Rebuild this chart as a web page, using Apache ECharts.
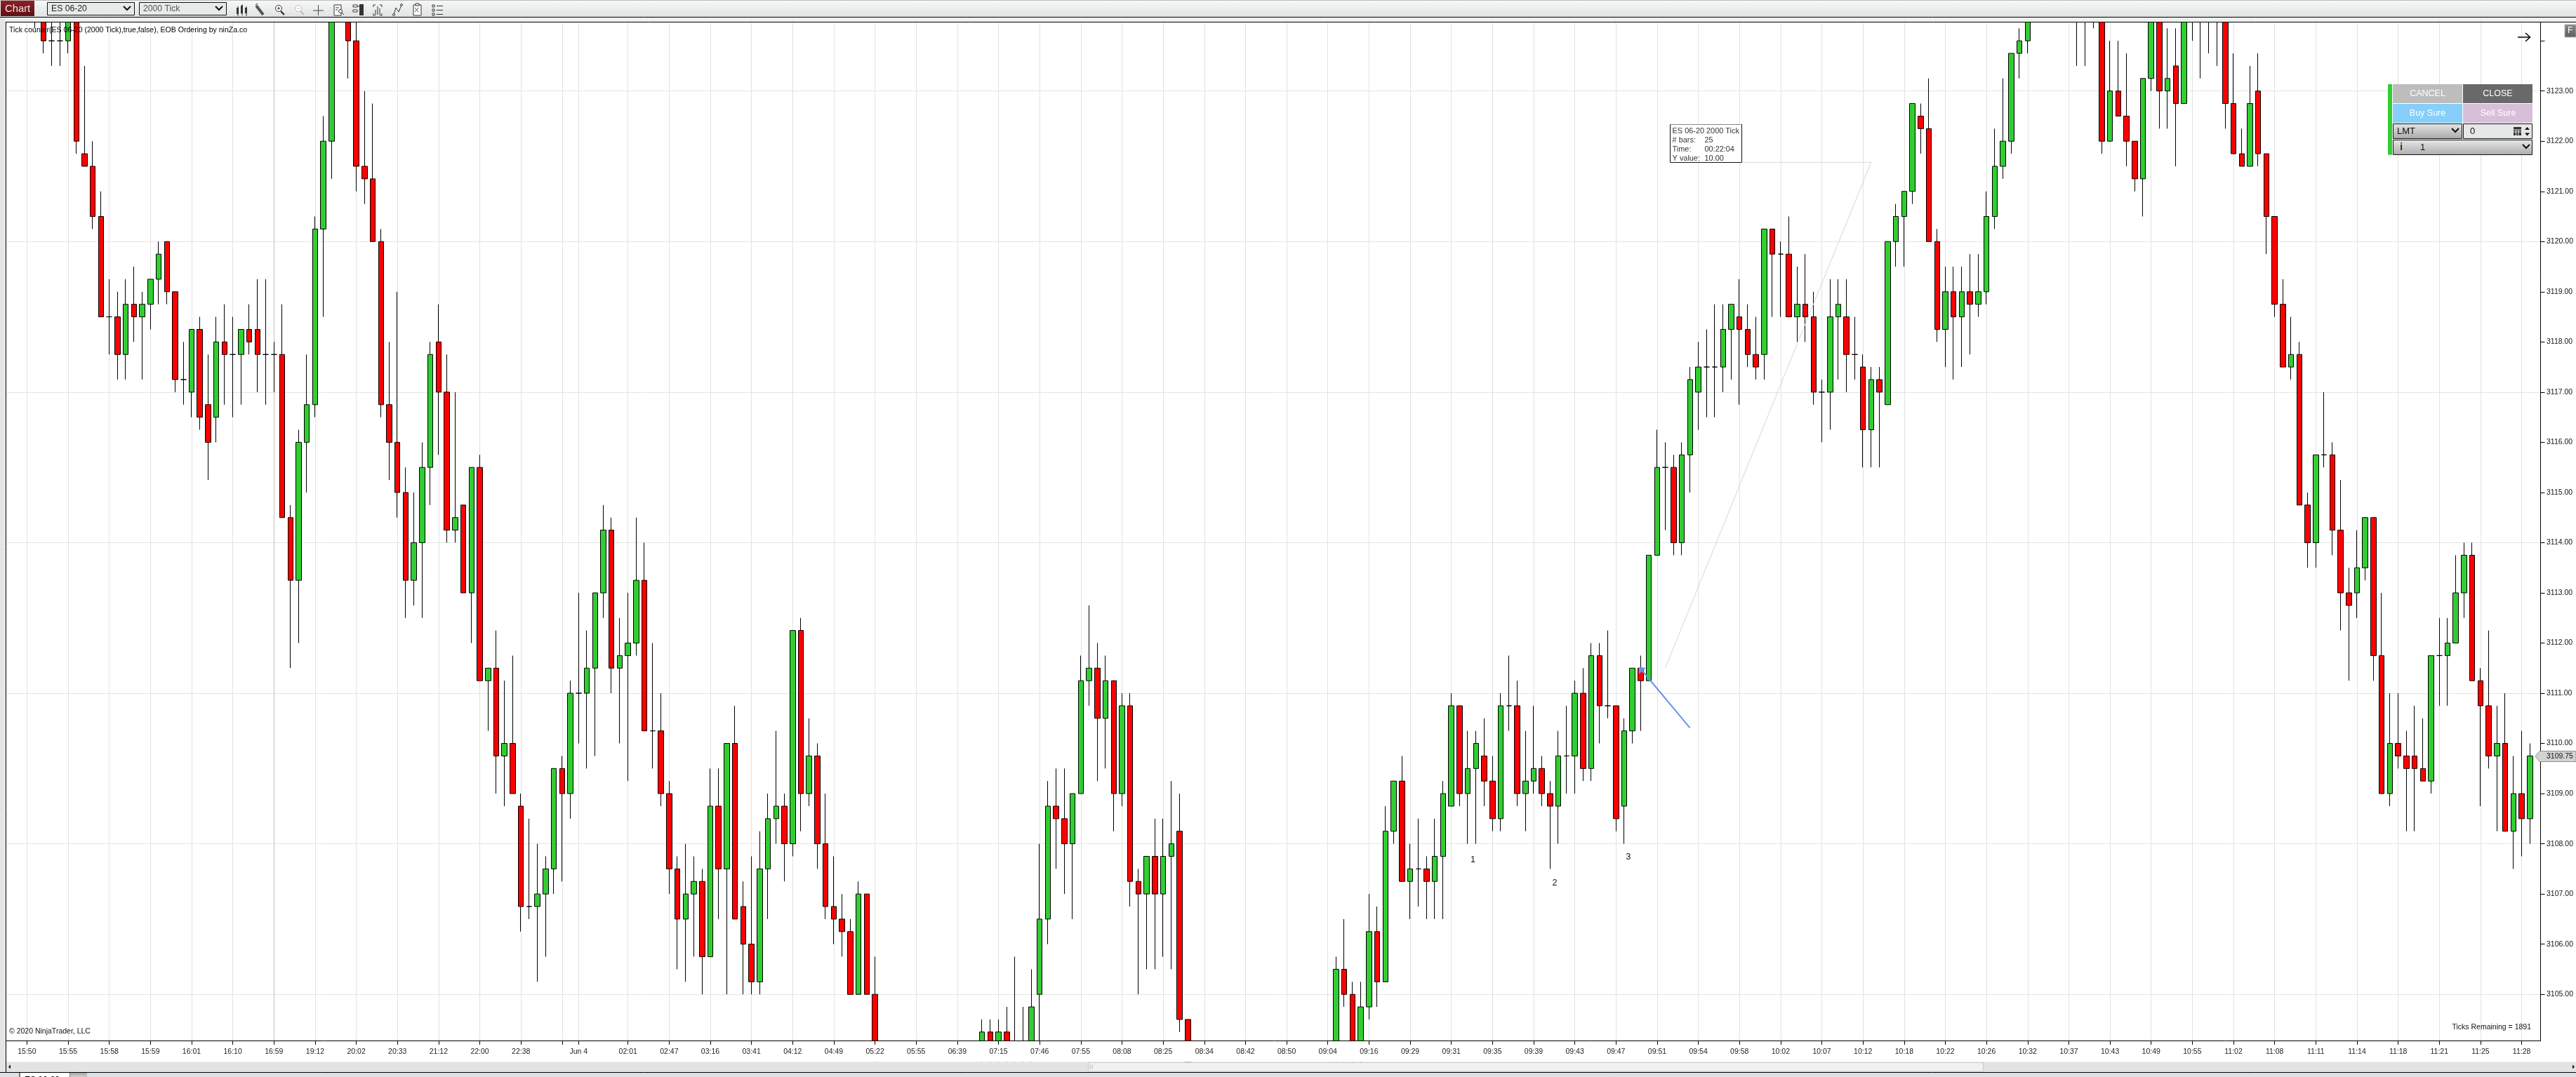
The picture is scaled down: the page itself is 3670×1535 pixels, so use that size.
<!DOCTYPE html>
<html>
<head>
<meta charset="utf-8">
<style>html,body{margin:0;padding:0;background:#fff}#c{width:3670px;height:1535px}</style>
<script src="https://cdn.jsdelivr.net/npm/echarts@6/dist/echarts.min.js"></script>
</head>
<body>
<div id="c"></div>
<script>
const opens = [
3126,3126.5,3127,3126,3125.5,3124,3124,3124,3125,3121.75,
3121.5,3120.5,3118.5,3118.5,3117.75,3118.75,3118.5,3118.75,3119.25,3120,
3119,3117.25,3117,3118.25,3116.75,3116.5,3118,3117.75,3117.75,3118.25,
3118.25,3117.75,3117.75,3117.75,3114.5,3113.25,3116,3116.75,3120.25,3122,
3125.5,3126,3124,3121.5,3121.25,3120,3116.75,3116,3115,3113.25,
3114,3115.5,3118,3117,3114.25,3114.75,3113,3115.5,3111.25,3111.5,
3109.75,3110,3108.75,3106.75,3106.75,3107,3107.5,3109.5,3109,3111,
3111,3111.5,3113,3114.25,3111.5,3111.75,3112,3113.25,3110.25,3110.25,
3109,3107.5,3106.5,3107,3107.25,3105.75,3108.75,3107.5,3110,3106.75,
3106,3105.25,3107.5,3108.5,3108.75,3108,3112.25,3109,3109.75,3108,
3106.75,3106.5,3106.25,3105,3107,3105,3103.75,3103.5,3103.25,3103,
3103.25,3103,3102.75,3103,3103.25,3103,3103.25,3103.5,3103.75,3104.25,
3103.75,3104.25,3103.75,3103.75,3103.75,3105,3106.5,3108.75,3108.5,3108,
3109,3111.25,3111.5,3110.5,3111.25,3109,3110.75,3107.25,3107,3107.75,
3107,3107.75,3108.25,3104.5,3103.5,3103,3102.75,3103,3103.25,3103,
3102.75,3103,3102.75,3103,3103.25,3103,3103.25,3103.5,3103.25,3103.5,
3103.25,3103.75,3105.5,3105,3103.75,3104.75,3106.25,3105.25,3108.25,3109.25,
3107.25,3107.5,3107.5,3107.25,3107.75,3108.75,3110.75,3109,3109.5,3109.75,
3109.25,3108.5,3110.75,3110.75,3109,3109.25,3109.5,3109,3108.75,3109.75,
3109.75,3111,3109.5,3111.75,3110.75,3110.75,3108.75,3110.25,3111.5,3111.25,
3113.75,3115.5,3115.5,3114,3115.75,3117,3117.5,3117.5,3117.5,3118.25,
3118.5,3118.25,3117.75,3117.75,3120.25,3119.75,3119.75,3118.5,3118.75,3118.5,
3117,3117,3118.5,3118.5,3117.75,3117.5,3116.25,3117.25,3116.75,3120,
3120.5,3121,3122.5,3122.25,3120,3118.25,3119,3118.5,3119,3118.75,
3119,3120.5,3121.5,3122,3123.75,3124,3125,3125.5,3126,3126.5,
3126,3126.5,3126,3125.5,3125,3122,3123,3122.5,3122,3121.25,
3123.25,3125,3123,3123.5,3122.75,3125,3125.5,3125,3125.25,3125,
3122.75,3121.75,3121.5,3123,3121.75,3120.5,3118.75,3117.5,3117.75,3114.75,
3114,3115.75,3115.75,3114.25,3113,3113,3113.5,3114.5,3111.75,3109,
3110,3109.75,3109.75,3109.5,3109.25,3111.75,3111.75,3112,3113,3113.75,
3111.25,3110.75,3109.75,3110,3108.25,3109,3108.5];
const closes = [
3126.5,3127,3126,3125.5,3124,3124,3124,3125,3122,3121.5,
3120.5,3118.5,3118.5,3117.75,3118.75,3118.5,3118.75,3119.25,3119.75,3119,
3117.25,3117.25,3118.25,3116.5,3116,3118,3117.75,3117.75,3118.25,3118,
3117.75,3117.75,3117.75,3114.5,3113.25,3116,3116.75,3120.25,3122,3125.5,
3126,3124,3121.5,3121.25,3120,3116.75,3116,3115,3113.25,3114,
3115.5,3117.75,3117,3114.25,3114.5,3113,3115.5,3111.25,3111.5,3109.75,
3110,3109,3106.75,3106.75,3107,3107.5,3109.5,3109,3111,3111,
3111.5,3113,3114.25,3111.5,3111.75,3112,3113.25,3110.25,3110.25,3109,
3107.5,3106.5,3107,3107.25,3105.75,3108.75,3107.5,3110,3106.5,3106,
3105.25,3107.5,3108.5,3108.75,3108,3112.25,3109,3109.75,3108,3106.75,
3106.5,3106.25,3105,3107,3105,3103.75,3103.5,3103.25,3103,3103.25,
3103,3102.75,3103,3103.25,3103,3103.25,3103.5,3103.75,3104.25,3103.75,
3104.25,3103.75,3103.75,3103.75,3104.75,3106.5,3108.75,3108.5,3108,3109,
3111.25,3111.5,3110.5,3111.25,3109,3110.75,3107.25,3107,3107.75,3107,
3107.75,3108,3104.5,3103.5,3103,3102.75,3103,3103.25,3103,3102.75,
3103,3102.75,3103,3103.25,3103,3103.25,3103.5,3103.25,3103.5,3103.25,
3103.75,3105.5,3105,3103.75,3104.75,3106.25,3105.25,3108.25,3109.25,3107.25,
3107.5,3107.5,3107.25,3107.75,3109,3110.75,3109,3109.5,3110,3109.25,
3108.5,3110.75,3110.75,3109,3109.25,3109.5,3109,3108.75,3109.75,3109.75,
3111,3109.5,3111.75,3110.75,3110.75,3108.5,3110.25,3111.5,3111.25,3113.75,
3115.5,3115.5,3114,3115.75,3117.25,3117.5,3117.5,3117.5,3118.25,3118.75,
3118.25,3117.75,3117.5,3120.25,3119.75,3119.75,3118.5,3118.75,3118.5,3117,
3117,3118.5,3118.75,3117.75,3117.75,3116.25,3117.25,3117,3120,3120.5,
3121,3122.75,3122.25,3120,3118.25,3119,3118.5,3119,3118.75,3119,
3120.5,3121.5,3122,3123.75,3124,3125,3125.5,3126,3126.5,3126,
3126.5,3126,3125.5,3125,3122,3123,3122.5,3122,3121.25,3123.25,
3125,3123,3123.25,3122.75,3125,3125.5,3125,3125.25,3125,3122.75,
3121.75,3121.5,3122.75,3121.75,3120.5,3118.75,3117.5,3117.75,3114.75,3114,
3115.75,3115.75,3114.25,3113,3112.75,3113.5,3114.5,3111.75,3109,3110,
3109.75,3109.5,3109.5,3109.25,3111.75,3111.75,3112,3113,3113.75,3111.25,
3110.75,3109.75,3110,3108.25,3109,3108.5,3109.75];
const lows = [
3125.5,3126,3125.5,3124.25,3123.75,3123.5,3123.5,3123.75,3121.75,3121.5,
3120.25,3118.5,3117.75,3117.25,3117.25,3118,3117.25,3118.25,3118.75,3118.75,
3117,3116.75,3116.5,3116.25,3115.25,3116,3116.75,3116.5,3116.75,3117.75,
3117,3116.75,3117,3114.5,3111.5,3112,3115,3116.5,3118.5,3121.25,
3125,3123.25,3121,3120.75,3120,3116.5,3115.25,3114.5,3112.5,3112.75,
3112.5,3114.75,3115.75,3114,3114,3113,3112,3111.25,3110.25,3109,
3108.75,3109,3106.25,3106.5,3105.25,3105.75,3107,3107.25,3108.5,3110,
3109.5,3109.75,3112.5,3111,3110,3109.25,3111.75,3110.25,3109.5,3108.75,
3107,3105.5,3105.25,3105.75,3105,3105.75,3106.5,3105,3106.5,3105,
3105,3105,3106.5,3108,3107.25,3107.75,3108.25,3108.75,3107.5,3106.5,
3106,3105.75,3105,3105,3105,3103.5,3103.25,3103,3102.75,3102.75,
3102.75,3102.5,3102.5,3102.75,3102.75,3102.75,3103,3103.25,3103.5,3103.5,
3103.5,3103.5,3103.25,3103.5,3103.5,3103.75,3106,3107.5,3107,3106.5,
3109,3110.75,3109.25,3109.5,3108.25,3108.75,3106.75,3105,3105.5,3105.5,
3105.75,3105.5,3104.25,3103.25,3102.75,3102.5,3102.5,3102.75,3102.75,3102.5,
3102.5,3102.5,3102.5,3102.75,3102.75,3102.75,3103,3103,3103,3103,
3103,3103.5,3104.75,3103.5,3103.5,3104.5,3104.75,3105.25,3108,3107.25,
3106.5,3106.75,3106.5,3106.5,3106.5,3108.75,3108.75,3108,3108,3108.75,
3108.25,3108.25,3110.25,3108.75,3108.25,3109,3108.75,3107.5,3108,3109,
3109,3109.25,3109.25,3110,3110.5,3108.25,3108,3110,3110.25,3111.25,
3113.75,3114.25,3113.75,3113.75,3115,3116.25,3116.5,3116.5,3117,3117.25,
3116.75,3117.5,3117.25,3117.25,3118.5,3118.5,3118.5,3118,3118,3116.75,
3116,3116.25,3117.25,3117,3117.25,3115.5,3115.5,3115.5,3116.75,3119.5,
3119.5,3120.75,3121.75,3120,3118,3117.5,3117.25,3117.5,3117.75,3118.5,
3118.75,3120.25,3121.25,3121.75,3123.25,3123.75,3124.75,3125,3125.5,3125.5,
3125.5,3123.5,3123.5,3124.25,3121.75,3122,3122.5,3121.5,3121,3120.5,
3123,3122.25,3122.25,3121.5,3122.75,3124,3123.25,3123.75,3123.5,3122.25,
3121.75,3121.5,3121.5,3121.5,3119.75,3118.5,3117.5,3117.25,3114.75,3113.5,
3113.5,3115.5,3113.75,3112.25,3111.25,3112.5,3113.25,3111.25,3109,3108.75,
3109.5,3108.25,3108.25,3109.25,3109,3110.75,3110.75,3112,3112.5,3111.25,
3108.75,3109.5,3108.25,3108.25,3107.5,3107.75,3108];
const highs = [
3127,3127.25,3127.5,3126.5,3126,3125.5,3125,3125.5,3125.25,3123.5,
3122,3121,3119.25,3119,3119.25,3119.5,3119,3119.25,3120,3120,
3119,3118,3118.25,3118.5,3117.75,3118.5,3118.75,3118.5,3118.25,3118.75,
3119.25,3119.25,3118,3118.75,3114.75,3116.25,3117.75,3120.5,3122.5,3126,
3126.5,3126.5,3125,3123,3122.75,3120.25,3118,3119,3115.5,3115,
3116,3118,3118.75,3117.75,3117,3114.75,3115.5,3115.75,3111.5,3112.25,
3111.25,3111.75,3109,3108.5,3108,3107.75,3109.5,3109.75,3111.25,3113,
3112.25,3113,3114.75,3114.5,3112.5,3113,3114.5,3114,3112,3111,
3109.25,3107.75,3108,3107.75,3107.5,3109.5,3109.5,3110,3110.75,3107.25,
3107.75,3108.25,3109,3110.25,3109,3112.25,3112.5,3110.5,3110,3109,
3107.75,3107,3106.5,3107.25,3107,3105.75,3104,3103.75,3103.5,3103.5,
3103.5,3103.25,3103.25,3103.5,3103.5,3103.5,3103.75,3104,3104.5,3104.5,
3104.5,3104.75,3105.75,3104.75,3105.5,3108,3109.25,3109.5,3109.5,3109,
3111.75,3112.75,3112,3111.75,3111.25,3111,3111,3107.5,3107.75,3108.5,
3108.5,3109.25,3109,3104.5,3103.75,3103.25,3103.25,3103.5,3103.5,3103.25,
3103.25,3103.25,3103.25,3103.5,3103.5,3103.5,3103.75,3103.75,3103.75,3103.75,
3104,3105.75,3106.5,3105.25,3105.25,3107,3106.75,3108.75,3109.25,3109.75,
3108,3108.5,3107.75,3108.5,3109.25,3111,3110.75,3110.25,3110.25,3110.5,
3109.75,3111,3111.75,3111.25,3110.25,3110.75,3109.75,3109.25,3110.25,3110.75,
3111.25,3111.5,3112,3112,3112.25,3110.75,3110.5,3111.5,3111.75,3113.75,
3116.25,3116,3115.75,3116,3117.5,3118,3118.25,3118.75,3118.75,3118.75,
3119.25,3118.75,3118.5,3120.25,3120.25,3120,3120.5,3119.5,3119.75,3119,
3117.25,3119.25,3119.25,3119.25,3118.5,3117.75,3117.5,3117.5,3120,3120.75,
3121,3122.75,3122.75,3123.25,3120.25,3119.5,3119.5,3119.5,3119.75,3119.75,
3121,3122.25,3123.25,3123.75,3124.25,3125.25,3125.75,3126.25,3126.75,3126.75,
3127,3126.75,3126.25,3126,3125.5,3124,3124,3123.75,3122,3123.25,
3125.5,3125.25,3124.25,3124.25,3125.25,3126,3125.75,3125.5,3125.5,3125.25,
3123.75,3122.25,3123.5,3123.75,3121.75,3120.5,3119.25,3118.5,3118,3115,
3115.75,3117,3116,3115.25,3113.5,3114.25,3114.5,3114.5,3113,3111,
3111,3110.25,3110.75,3110.5,3111.75,3112.5,3112.5,3113.75,3114,3114,
3111.5,3112.25,3110.75,3111,3109.75,3110.25,3110];

const tickBars = [2,7,12,17,22,27,32,37,42,47,52,57,62,67,69,75,80,85,90,95,100,105,110,115,120,125,130,135,140,145,150,155,160,165,170,175,180,185,190,195,200,205,210,215,220,225,230,235,240,245,250,255,260,265,270,275,280,285,290,295,300,305];
const tickLabels = ['15:50','15:55','15:58','15:59','16:01','16:10','16:59','19:12','20:02','20:33','21:12','22:00','22:38','','Jun 4','02:01','02:47','03:16','03:41','04:12','04:49','05:22','05:55','06:39','07:15','07:46','07:55','08:08','08:25','08:34','08:42','08:50','09:04','09:16','09:29','09:31','09:35','09:39','09:43','09:47','09:51','09:54','09:58','10:02','10:07','10:12','10:18','10:22','10:26','10:32','10:37','10:43','10:49','10:55','11:02','11:08','11:11','11:14','11:18','11:21','11:25','11:28'];
const sessionBreakBar = 32;
const priceLabels = [3105,3106,3107,3108,3109,3110,3111,3112,3113,3114,3115,3116,3117,3118,3119,3120,3121,3122,3123];
const priceTicks = priceLabels.concat([3124]);
const majorPrices = [3105,3108,3111,3114,3117,3120,3123];

const BAR_SLOTS = 308;
const categories = Array.from({length: BAR_SLOTS}, (_, i) => {
  const k = tickBars.indexOf(i);
  return k >= 0 ? tickLabels[k] : '';
});
const tickSet = new Set(tickBars);
const candleData = opens.map((o, i) => [o, closes[i], lows[i], highs[i]]);

const FONT = '"Liberation Sans", Arial, sans-serif';
const grad = (a, b) => ({type:'linear',x:0,y:0,x2:0,y2:1,colorStops:[{offset:0,color:a},{offset:1,color:b}]});
const R = (x,y,w,h,fill,stroke,lw) => ({type:'rect',shape:{x,y,width:w,height:h},style:{fill,stroke:stroke||null,lineWidth:lw||1},silent:true});
const T = (x,y,text,size,fill,align,weight) => ({type:'text',x,y,style:{text,font:(weight||'normal')+' '+size+'px '+FONT,fill,align:align||'left',verticalAlign:'middle'},silent:true});
const L = (pts,stroke,lw) => ({type:'polyline',shape:{points:pts},style:{stroke,lineWidth:lw||1,fill:null},silent:true});
const P = (pts,fill,stroke) => ({type:'polygon',shape:{points:pts},style:{fill,stroke:stroke||null},silent:true});
const chev = (x,y) => L([[x-5,y-3],[x,y+2],[x+5,y-3]],'#111',2);

const icons = [];
// candles icon
icons.push(L([[339,9],[339,24-1]],'#333',1),R(337,11,3,9,'#333'),L([[345,6],[345,22]],'#333',1),R(343,8,3,11,'#333'),L([[351,9],[351,23]],'#333',1),R(349,11,3,8,'#333'));
// pencil
icons.push(L([[365,8],[375,21]],'#555',4),L([[364,7],[367,5]],'#222',1));
// zoom in / out
icons.push({type:'circle',shape:{cx:397,cy:12,r:4.5},style:{fill:'#fff',stroke:'#333',lineWidth:1},silent:true},L([[400,16],[405,21]],'#222',2),L([[395,12],[399,12]],'#333',1),L([[397,10],[397,14]],'#333',1));
icons.push({type:'circle',shape:{cx:425,cy:12,r:4.5},style:{fill:'#fff',stroke:'#bbb',lineWidth:1},silent:true},L([[428,16],[433,21]],'#bbb',2),L([[423,12],[427,12]],'#bbb',1));
// crosshair
icons.push(L([[446,15],[461,15]],'#444',1),L([[453.5,7],[453.5,22]],'#444',1));
// properties
icons.push(R(476,7,10,15,'#fff','#333'),L([[478,11],[483,11]],'#333',1),L([[478,14],[481,14]],'#333',1),{type:'circle',shape:{cx:485,cy:16,r:2.5},style:{fill:'#fff',stroke:'#333'},silent:true},L([[487,18],[490,21]],'#333',1));
// strategy
icons.push(R(503,7,6,3,'#fff','#333'),R(503,14,6,3,'#fff','#333'),R(512,6,6,16,'#333'),L([[509,9],[512,9]],'#333',1));
// bars in brackets
icons.push(L([[532,10],[532,7],[535,7]],'#333',1),L([[541,7],[544,7],[544,10]],'#333',1),L([[532,19],[532,22],[535,22]],'#333',1),L([[541,22],[544,22],[544,19]],'#333',1),L([[535,14],[535,21]],'#333',1),L([[538,9],[538,21]],'#333',1),L([[541,12],[541,21]],'#333',1));
// nodes
icons.push(L([[561,21],[564,11],[568,17],[572,7]],'#333',1),{type:'circle',shape:{cx:561,cy:21,r:1.5},style:{fill:'#fff',stroke:'#333'},silent:true},{type:'circle',shape:{cx:572,cy:7,r:1.5},style:{fill:'#fff',stroke:'#333'},silent:true});
// clipboard
icons.push(R(589,7,11,15,'#fff','#333'),R(592,5,5,3,'#fff','#333'),L([[591,11],[596,17]],'#555',1),L([[596,11],[591,17]],'#555',1));
// list
icons.push(R(616,7,3,3,'#fff','#333'),R(616,13,3,3,'#fff','#333'),R(616,19,3,3,'#fff','#333'),L([[622,8.5],[631,8.5]],'#333',1),L([[622,14.5],[631,14.5]],'#333',1),L([[622,20.5],[631,20.5]],'#333',1));

const chrome = [
  // toolbar
  R(0,0,3670,24,grad('#f7f8f8','#e1e3e3')),
  L([[0,0.5],[3670,0.5]],'#bbbbbb',1),
  L([[0,24.5],[3670,24.5]],'#000',1),
  R(0,25,3670,6,'#eef0f0'),
  R(1,1,48,22,grad('#8e2026','#5c1013')),
  T(7,13,'Chart',14.8,'#f2e4e4'),
  R(67.5,3.5,124,18,'#e8eaea','#111',1),
  T(73,13,'ES 06-20',12.2,'#222'),
  chev(181,12),
  R(198.5,3.5,124,18,'#e8eaea','#111',1),
  T(204,13,'2000 Tick',12.2,'#555'),
  chev(312,12),
  ...icons,
  // frame
  R(0,25,8,1510,'#e4e6e6'),
  L([[8.5,31],[8.5,1528]],'#000',1),
  L([[8,31.5],[3670,31.5]],'#000',1),
  // bottom: mask of the axis overrun, scrollbar, tabs
  R(3620,1482,4,3,'#fff'),
  R(9,1513.5,3661,14.5,'#e3e3e3'),
  R(1550.5,1514.5,1275,12.5,'#f1f1f1','#c9c9c9'),
  L([[1553,1517],[1553,1524]],'#bbb',1),L([[1556,1517],[1556,1524]],'#bbb',1),
  P([[12,1520.5],[15,1517.5],[15,1523.5]],'#111'),
  P([[3668,1520.5],[3665,1517.5],[3665,1523.5]],'#111'),
  L([[0,1528.5],[3670,1528.5]],'#000',1),
  R(0,1529,3670,6,'#dde1e4'),
  R(28,1528.5,72,7,'#fff','#000'),
  T(35,1540,'ES 06-20',12,'#000','left','bold'),
  R(100,1529,24,6,grad('#a9a9a9','#d0d0d0')),
  // chart texts
  T(13,43,'Tick counter(ES 06-20 (2000 Tick),true,false), EOB Ordering by ninZa.co',10.55,'#000'),
  T(13,1470,'\u00a9 2020 NinjaTrader, LLC',10.5,'#111'),
  T(3606,1464,'Ticks Remaining = 1891',10.5,'#111','right'),
  // annotations
  T(2098.5,1226,'1',12.5,'#111','center'),
  T(2215,1259,'2',12.5,'#111','center'),
  T(2320,1222,'3',12.5,'#111','center'),
  L([[2372.4,952.3],[2665.8,231.3],[2481.5,231.3]],'#d6d6d6',1),
  L([[2407.6,1037.3],[2338,954]],'#6495ED',2),
  P([[2334.8,950.7],[2345,952],[2334.8,960.7]],'#6495ED'),
  R(2379.5,177.5,102,54,'#fff','#111',1),
  L([[2380,177.5],[2481,177.5]],'#888',1),
  T(2382.6,187,'ES 06-20 2000 Tick',10.9,'#333'),
  T(2382.6,200,'# bars:',10.9,'#333'),T(2428.5,200,'25',10.9,'#333'),
  T(2382.6,213,'Time:',10.9,'#333'),T(2428.5,213,'00:22:04',10.9,'#333'),
  T(2382.6,225.5,'Y value:',10.9,'#333'),T(2428.5,225.5,'10.00',10.9,'#333'),
  // right arrow
  L([[3587,53],[3604,53]],'#000',1.5),L([[3598,47],[3604.5,53],[3598,59]],'#000',1.5),
  // F button
  R(3654,35,16,18,grad('#8a8a8a','#5d5d5d'),'#b5b5b5'),
  T(3658,44,'F',12,'#fff'),
  // order panel
  R(3402,120,6,100.7,'#32CD32'),
  R(3409,120,99,27,'#bdbdbd'),
  T(3458.5,134,'CANCEL',12.5,'#fff','center'),
  R(3509,120,99,27,'#696969'),
  T(3558.5,134,'CLOSE',12.5,'#fff','center'),
  R(3409,148,99,27,'#87CEFA'),
  T(3458.5,162,'Buy Sure',12.5,'#fff','center'),
  R(3509,148,99,27,'#D8BFD8'),
  T(3559,162,'Sell Sure',12.5,'#fff','center'),
  R(3409.5,176.5,98,21,grad('#e4e4e4','#aaaaaa'),'#111',1),
  T(3415,187,'LMT',13,'#111'),
  chev(3498,186),
  R(3509.5,176.5,98,21,'#e6e8e8','#111',1),
  T(3519,187,'0',13,'#111'),
  R(3581,181,11,12,'#333'),
  L([[3581,185],[3592,185]],'#e6e8e8',1),L([[3581,188],[3592,188]],'#e6e8e8',1),L([[3584.5,185],[3584.5,193]],'#e6e8e8',1),L([[3588,185],[3588,193]],'#e6e8e8',1),
  P([[3600.5,181],[3597,185],[3604,185]],'#111'),
  P([[3600.5,193.5],[3597,189.5],[3604,189.5]],'#111'),
  R(3409.5,199.5,198,21,grad('#e8e8e8','#acacac'),'#111',1),
  T(3421,210,'i',15,'#5a2d00','center','bold'),
  T(3448,210,'1',13,'#111'),
  chev(3599,209),
  // last price marker
  P([[3612,1078],[3618,1070.5],[3670,1070.5],[3670,1085.5],[3618,1085.5]],'#d3d3d3','#8f8f8f'),
  T(3628,1078,'3109.75',10.5,'#111')
];
chrome.forEach(e => { e.z = 100; });
// candles are not cut at the plot edge: a white strip hides what runs below the time axis, under the axis itself
const bottomStrip = Object.assign(R(9,1483.5,3661,30,'#fff'), {z:40});

const gridLines = majorPrices.map(v => ({yAxis:v, lineStyle:{color:'#e4e4e4',width:1,type:'solid'}}))
  .concat(tickBars.map(i => ({xAxis:i, lineStyle:{color: i===sessionBreakBar ? '#c2c2c2' : '#e2e2e2', width:1, type:'solid'}})));

const chart = echarts.init(document.getElementById('c'), null, {renderer:'canvas', width:3670, height:1535});
chart.setOption({
  animation:false,
  backgroundColor:'#ffffff',
  grid:{left:9.07, top:31, width:3612.84, height:1452, containLabel:false},
  tooltip:{show:false},
  xAxis:{
    type:'category', data:categories, boundaryGap:true, z:50,
    axisLine:{show:true,lineStyle:{color:'#000',width:1}},
    axisTick:{show:true,alignWithLabel:true,length:6,interval:i=>tickSet.has(i),lineStyle:{color:'#000',width:1}},
    axisLabel:{show:true,interval:(i,v)=>v!=='',color:'#222',fontFamily:'Liberation Sans',fontSize:10.5,margin:11,hideOverlap:false},
    splitLine:{show:false}
  },
  yAxis:{
    type:'value', position:'right', offset:-2.4, min:3104.08, max:3124.38, scale:true, z:50,
    axisLine:{show:true,onZero:false,lineStyle:{color:'#000',width:1}},
    axisTick:{show:true,length:6,customValues:priceTicks,lineStyle:{color:'#000',width:1}},
    axisLabel:{show:true,customValues:priceLabels,color:'#111',fontFamily:'Liberation Sans',fontSize:10.5,margin:8.5,formatter:v=>Number(v).toFixed(2)},
    splitLine:{show:false}
  },
  series:[{
    type:'candlestick', data:candleData, barWidth:8, clip:true, z:2,
    itemStyle:{color:'#32CD32',color0:'#FF0000',borderColor:'#000',borderColor0:'#000',borderColorDoji:'#000',borderWidth:1},
    markLine:{silent:true,symbol:'none',z:1,animation:false,label:{show:false},emphasis:{disabled:true},lineStyle:{type:'solid'},data:gridLines}
  }],
  graphic:{elements:chrome.concat([bottomStrip])}
});
</script>
</body>
</html>
